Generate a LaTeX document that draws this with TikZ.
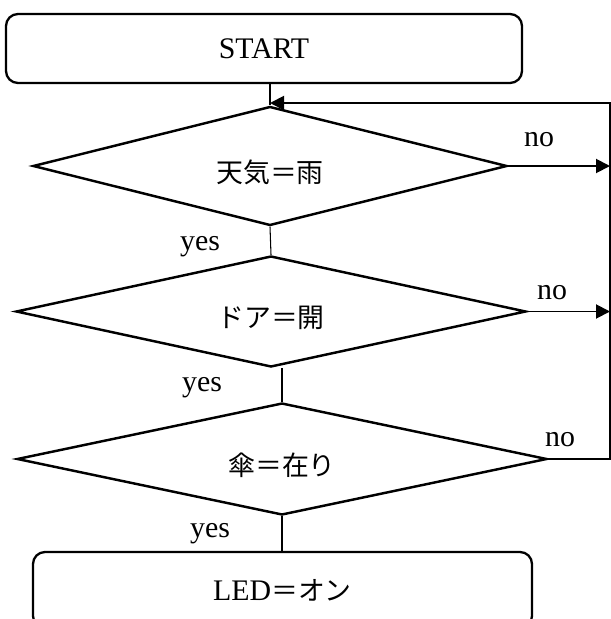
\documentclass[tikz,border=0pt]{standalone}
\usepackage{fontspec}
\setmainfont{Liberation Serif}
\newfontfamily\jp{Noto Sans CJK JP}[Scale=0.9]
\usepackage{tikz}
\usetikzlibrary{arrows.meta}
\usetikzlibrary{shapes.geometric}
\tikzset{
    terminal/.style={
        draw,
        rectangle,
        rounded corners=0.24cm,
        line width=1.3pt,
        inner sep=0pt
    },
    decision/.style={
        draw,
        diamond,
        aspect=4,
        line width=1.4pt,
        inner sep=0pt,
        text height=0.7cm,
        text depth=0.06cm
    },
    flow/.style={
        line width=0.6pt
    },
    branch/.style={
        draw,
        line width=1.1pt,
        -{Triangle[length=2.8mm, width=2.8mm]}
    }
}
\tikzset{
  every node/.style={font=\fontsize{17}{20}\selectfont}
}

\begin{document}
\begin{tikzpicture}
    \useasboundingbox (0,0) rectangle (12.22,-12.38);
    \node[terminal, minimum width=10.32cm, minimum height=1.38cm] (start) at (5.28,-0.97) {START};
    \node[decision, minimum width=9.48cm, minimum height=2.38cm] (rain) at (5.40,-3.32) {\jp 天気＝雨};
    \node[decision, minimum width=10.20cm, minimum height=2.22cm] (door) at (5.42,-6.23) {\jp ドア＝開};
    \node[decision, minimum width=10.60cm, minimum height=2.24cm] (umbrella) at (5.64,-9.18) {\jp 傘＝在り};
    \node[terminal, minimum width=9.98cm, minimum height=1.52cm] (led) at (5.65,-11.80) {LED{\jp ＝オン}};
    \coordinate (loop) at (12.20,-2.06);

    \node (no1) at (10.78,-2.80) {no};
    \node (no2) at (11.04,-5.86) {no};
    \node (no3) at (11.20,-8.80) {no};
    \node (yes1) at (4.00,-4.94) {yes};
    \node (yes2) at (4.04,-7.76) {yes};
    \node (yes3) at (4.20,-10.68) {yes};

    \draw[flow] (rain.north |- start.south) -- (rain.north);
    \draw[flow] (rain.south) -- (door.north);
    \draw[flow] (umbrella.north |- door.south) -- (umbrella.north);
    \draw[flow] (umbrella.south) -- (umbrella.south |- led.north);

    \draw[branch] (rain.east) -- (rain.east -| loop);
    \draw[branch] (door.east) -- (door.east -| loop);
    \draw[branch] (umbrella.east) -| (loop) -- (rain.north |- loop);
\end{tikzpicture}
\end{document}
